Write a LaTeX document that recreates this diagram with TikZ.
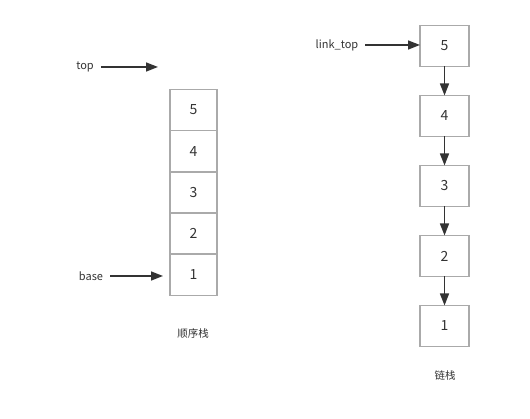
\documentclass[tikz,border=0pt]{standalone}
\usepackage{fontspec}
\setmainfont{Noto Sans CJK SC}
\usetikzlibrary{arrows.meta, positioning}
\definecolor{boxgray}{RGB}{170,170,170}
\definecolor{ink}{RGB}{51,51,51}

\begin{document}
\begin{tikzpicture}[x=1pt, y=-1pt,
    cell/.style={draw=boxgray, line width=1.5pt, outer sep=0pt, inner sep=0pt,
                 minimum width=47pt, minimum height=41.2pt, text=ink,
                 font=\fontsize{14}{14}\selectfont},
    linkcell/.style={cell, minimum width=49pt, minimum height=41pt},
    lbl/.style={text=ink, inner sep=0pt, font=\fontsize{11}{13}\selectfont},
    ptr/.style={draw=ink, line width=1.6pt, -{Triangle[length=12pt, width=9pt]}}]
  \useasboundingbox (0,0) rectangle (530,419);

  % sequential stack
  \node[cell] (s5) at (193.5,110) {5};
  \node[cell, below=0pt of s5] (s4) {4};
  \node[cell, below=0pt of s4] (s3) {3};
  \node[cell, below=0pt of s3] (s2) {2};
  \node[cell, below=0pt of s2] (s1) {1};
  \node[lbl] (top) at (85,67) {top};
  \node[lbl] (base) at (91,276) {base};
  \coordinate (toptip) at (158,67);
  \draw[ptr, shorten <=7pt] (top.east) -- (toptip);
  \draw[ptr, shorten <=7pt, shorten >=7pt] (base.east) -- (s1.west |- base.east);
  \node[lbl, font=\fontsize{10.5}{13}\selectfont] (seqname) at (193,334) {顺序栈};

  % linked stack
  \node[linkcell] (l5) at (444.5,46) {5};
  \node[linkcell, below=29pt of l5] (l4) {4};
  \node[linkcell, below=29pt of l4] (l3) {3};
  \node[linkcell, below=29pt of l3] (l2) {2};
  \node[linkcell, below=29pt of l2] (l1) {1};
  \node[lbl] (linktop) at (337,45) {link\_top};
  \draw[ptr, shorten <=7pt] (linktop.east) -- (l5.west |- linktop.east);
  \draw[ptr] (l5) -- (l4);
  \draw[ptr] (l4) -- (l3);
  \draw[ptr] (l3) -- (l2);
  \draw[ptr] (l2) -- (l1);
  \node[lbl, font=\fontsize{10.5}{13}\selectfont] (linkname) at (445,375) {链栈};
\end{tikzpicture}
\end{document}
